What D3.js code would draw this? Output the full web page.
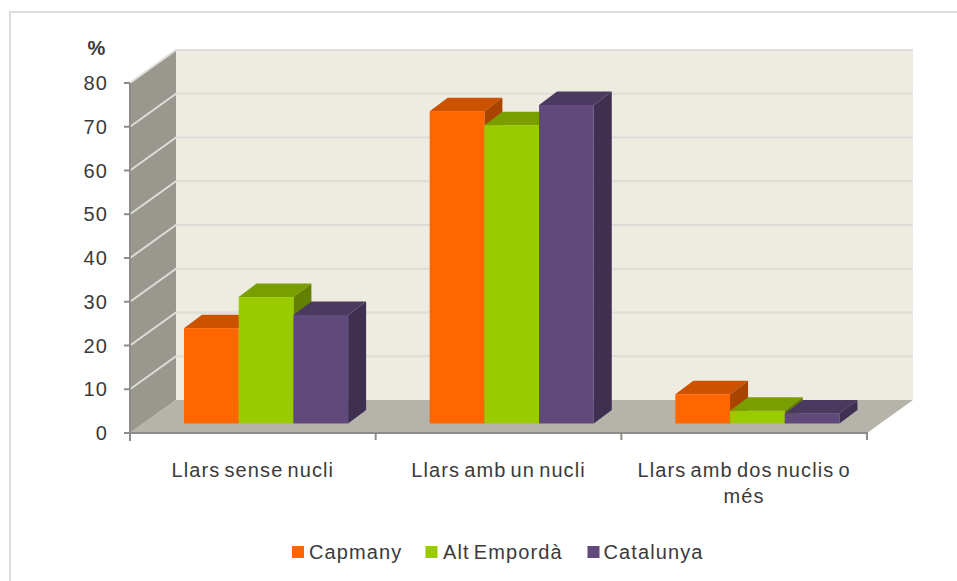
<!DOCTYPE html>
<html><head><meta charset="utf-8">
<script src="https://cdn.jsdelivr.net/npm/d3@7"></script>
<style>html,body{margin:0;padding:0;background:#fff}svg{display:block}text{font-family:"Liberation Sans",Arial,sans-serif;fill:#3a3a3a;font-size:20px;letter-spacing:1.1px;word-spacing:-2.5px}</style>
</head><body><svg id="c" width="957" height="581"></svg>
<script>
const categories = ["Llars sense nucli", "Llars amb un nucli", "Llars amb dos nuclis o més"];
const seriesNames = ["Capmany", "Alt Empordà", "Catalunya"];
const capmany = [21.8, 71.4, 6.7];
const altEmporda = [28.9, 68.2, 2.9];
const catalunya = [24.8, 72.8, 2.3];
const yTicks = [0, 10, 20, 30, 40, 50, 60, 70, 80];
const colorsFront = ["#ff6600", "#99cc00", "#604a7b"];
const colorsTop = ["#cc5200", "#7a9e00", "#4b3a60"];
const colorsSide = ["#a84400", "#638000", "#3f3052"];

const values = [capmany, altEmporda, catalunya];
const svg = d3.select("#c");
const y = d3.scaleLinear().domain([0, 80]).range([433, 83]);
const x = d3.scaleBand().domain(categories).range([130, 867]);
const dx = 46, dy = -33;            // wall depth
const left = 130, right = 867;
const pt = (...p) => p.map(a => a.join(",")).join(" ");

// frame
svg.append("path").attr("d", "M10,581V12H957").attr("fill", "none").attr("stroke", "#dcdcdc").attr("stroke-width", 2);

// walls
svg.append("polygon").attr("points", pt([left, y(80)], [left + dx, y(80) + dy], [left + dx, y(0) + dy], [left, y(0)])).attr("fill", "#9a978f");
svg.append("polygon").attr("points", pt([left + dx, y(80) + dy], [right + dx, y(80) + dy], [right + dx, y(0) + dy], [left + dx, y(0) + dy])).attr("fill", "#eeece1");
svg.append("polygon").attr("points", pt([left, y(0)], [left + dx, y(0) + dy], [right + dx, y(0) + dy], [right, y(0)])).attr("fill", "#b6b3ab");

// grid
yTicks.forEach(t => {
  if (t > 0) svg.append("polyline").attr("points", pt([left, y(t)], [left + dx, y(t) + dy], [right + dx, y(t) + dy]))
    .attr("fill", "none").attr("stroke", "#dcdcd8").attr("stroke-width", 2);
});

// axes
const ax = svg.append("g").attr("stroke", "#8c8c88").attr("stroke-width", 2).attr("fill", "none");
ax.append("line").attr("x1", left).attr("x2", left).attr("y1", y(80)).attr("y2", y(0) + 8);
ax.append("line").attr("x1", left - 1).attr("x2", right + 1).attr("y1", y(0)).attr("y2", y(0));
yTicks.forEach(t => ax.append("line").attr("x1", left - 6).attr("x2", left).attr("y1", y(t)).attr("y2", y(t)));
[...categories.map(c => x(c)), right].forEach(v => ax.append("line").attr("x1", v).attr("x2", v).attr("y1", y(0)).attr("y2", y(0) + 7));

// y labels
svg.append("g").selectAll("text").data(yTicks).join("text")
  .attr("x", 108).attr("y", d => y(d)).attr("dy", "0.36em").attr("text-anchor", "end").text(d => d);
svg.append("text").attr("x", 96.5).attr("y", 55).attr("text-anchor", "middle").attr("font-weight", "bold").style("letter-spacing", "0").text("%");

// bars
const barW = 54.7, barDx = 18, barDy = -13.5, offY = -9.5;
const gap = 54;
[0, 1, 2].forEach(ci => {
  const start = x(categories[ci]) + gap;
  [0, 1, 2].forEach(si => {
    const v = values[si][ci];
    const x0 = start + si * barW, x1 = x0 + barW;
    const yb = y(0) + offY, yt = y(v) + offY;
    const g = svg.append("g");
    g.append("polygon").attr("points", pt([x0, yt], [x0 + barDx, yt + barDy], [x1 + barDx, yt + barDy], [x1, yt])).attr("fill", colorsTop[si]);
    g.append("polygon").attr("points", pt([x1, yt], [x1 + barDx, yt + barDy], [x1 + barDx, yb + barDy], [x1, yb])).attr("fill", colorsSide[si]);
    g.append("rect").attr("x", x0).attr("y", yt).attr("width", barW).attr("height", yb - yt).attr("fill", colorsFront[si]);
  });
});

// category labels
const catLines = [["Llars sense nucli"], ["Llars amb un nucli"], ["Llars amb dos nuclis o", "més"]];
categories.forEach((c, i) => {
  catLines[i].forEach((l, j) => svg.append("text").attr("x", x(c) + x.bandwidth() / 2).attr("y", 477 + j * 26)
    .attr("text-anchor", "middle").text(l));
});

// legend
const legX = [292, 425.5, 587.5], legT = [309, 443, 603.5];
seriesNames.forEach((n, i) => {
  svg.append("rect").attr("x", legX[i]).attr("y", 546).attr("width", 12).attr("height", 12).attr("fill", colorsFront[i]);
  svg.append("text").attr("x", legT[i]).attr("y", 559).text(n);
});
</script></body></html>
